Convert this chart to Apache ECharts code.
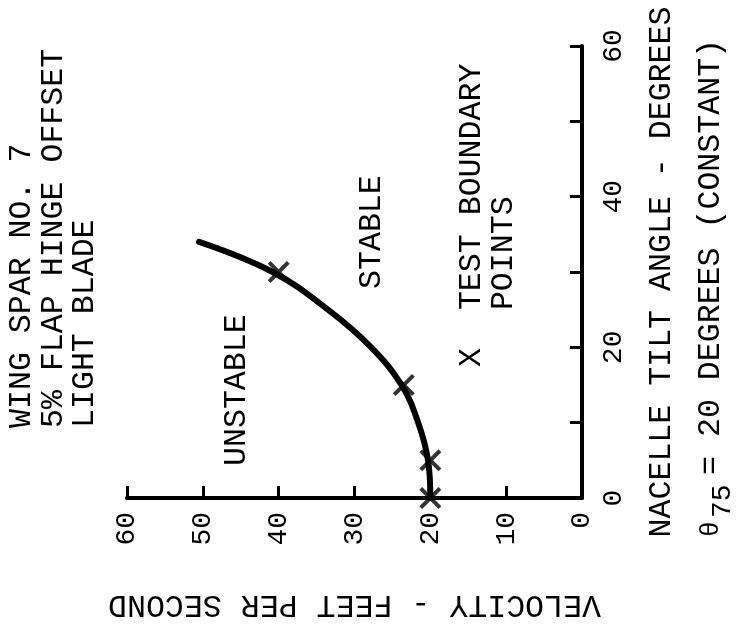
<!DOCTYPE html>
<html><head><meta charset="utf-8">
<script src="https://cdn.jsdelivr.net/npm/echarts@6/dist/echarts.min.js"></script>
<style>html,body{margin:0;padding:0;background:#fff}#c{width:736px;height:625px}</style>
</head><body><div id="c"></div>
<script>
// Boundary curve (nacelle tilt angle in degrees, velocity in ft/s)
const tiltCurve = [0, 5, 10, 15, 20, 25, 30, 34];
const velocityCurve = [20, 20.3, 21.6, 23.8, 27.8, 33.5, 40.8, 50.5];
// Test boundary points
const testTilt = [0, 5, 15, 30];
const testVelocity = [20, 20, 23.5, 40];
// Axis ranges / labels
const velocityRange = [0, 60];
const tiltRange = [0, 60];
const tiltLabelStep = 20;

const FONT = '"Liberation Mono", "DejaVu Sans Mono", monospace';
const TS = 31.6;
const chart = echarts.init(document.getElementById('c'));
const X_PATH = 'path://M0,2.6L2.6,0L20,17.4L17.4,20Z M17.4,0L20,2.6L2.6,20L0,17.4Z';

function txt(x, y, text, size, lh) {
  return {
    type: 'text', x: x, y: y, rotation: Math.PI / 2, silent: true,
    style: { text: text, fontFamily: FONT, fontSize: size, lineHeight: lh || size,
      fill: '#000', align: 'left', verticalAlign: lh ? 'top' : 'middle' }
  };
}

chart.setOption({
  animation: false,
  backgroundColor: '#fff',
  grid: { left: 127, right: 154, top: 46, bottom: 122, containLabel: false },
  xAxis: {
    type: 'value', min: velocityRange[0], max: velocityRange[1], interval: 10,
    inverse: true, position: 'bottom',
    name: 'VELOCITY - FEET PER SECOND', nameLocation: 'middle', nameGap: 90, nameRotate: 180,
    nameTextStyle: { fontFamily: FONT, fontSize: TS, color: '#000' },
    axisLine: { lineStyle: { color: '#000', width: 4 } },
    axisTick: { inside: true, length: 12, lineStyle: { color: '#000', width: 3 } },
    axisLabel: { rotate: 90, margin: 14, fontFamily: FONT, fontSize: 28, color: '#000' },
    splitLine: { show: false }
  },
  yAxis: {
    type: 'value', min: tiltRange[0], max: tiltRange[1], interval: 10, position: 'right',
    name: 'NACELLE TILT ANGLE - DEGREES', nameLocation: 'middle', nameGap: 64, nameRotate: 90,
    nameTextStyle: { fontFamily: FONT, fontSize: TS, color: '#000' },
    axisLine: { lineStyle: { color: '#000', width: 4 } },
    axisTick: { inside: true, length: 12, lineStyle: { color: '#000', width: 3 } },
    axisLabel: { rotate: 90, margin: 18, fontFamily: FONT, fontSize: 28, color: '#000',
      formatter: v => (v % tiltLabelStep === 0 ? String(v) : '') },
    splitLine: { show: false }
  },
  series: [
    { type: 'line', smooth: 0.4, showSymbol: false, silent: true,
      data: tiltCurve.map((t, i) => [velocityCurve[i], t]),
      lineStyle: { color: '#000', width: 6, cap: 'round' } },
    { type: 'scatter', symbol: X_PATH, symbolSize: 22, silent: true,
      data: testTilt.map((t, i) => [testVelocity[i], t]),
      itemStyle: { color: '#000' } }
  ],
  graphic: [
    txt(6, 428, 'WING SPAR NO. 7\n5% FLAP HINGE OFFSET\nLIGHT BLADE', TS, 31.5),
    txt(237, 466, 'UNSTABLE', TS),
    txt(372, 289, 'STABLE', TS),
    txt(456, 367, 'X  TEST BOUNDARY\n   POINTS', TS, 32),
    txt(711, 537, 'θ', 26),
    txt(723, 518, '75', 28),
    txt(711, 475, '= 20 DEGREES (CONSTANT)', TS)
  ]
});
</script></body></html>
